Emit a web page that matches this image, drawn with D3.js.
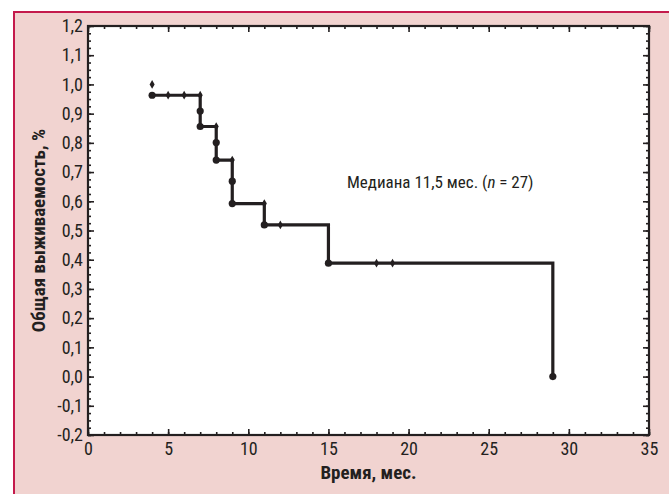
<!DOCTYPE html>
<html>
<head>
<meta charset="utf-8">
<script src="https://cdn.jsdelivr.net/npm/d3@7"></script>
<style>
  body { margin: 0; background: #fff; }
  svg text { font-family: "Liberation Sans Narrow", "Roboto Condensed", "DejaVu Sans Condensed", "Arial Narrow", sans-serif; fill: #231f20; }
</style>
</head>
<body>
<div id="chart"></div>
<script>
// DATA ------------------------------------------------------------------
// survival curve: value after each event time (step after)
const stepTimes = [4, 7, 8, 9, 11, 15, 29];
const stepSurv = [0.963, 0.856, 0.741, 0.592, 0.519, 0.388, 0];

// filled dots (events)
const eventTimes = [4, 7, 7, 8, 8, 9, 9, 11, 15, 29];
const eventSurv = [0.963, 0.909, 0.856, 0.801, 0.741, 0.669, 0.592, 0.519, 0.388, 0];

// small marks (censored / start)
const censTimes = [4, 5, 6, 7, 8, 9, 11, 12, 18, 19];
const censSurv = [1.0, 0.963, 0.963, 0.963, 0.856, 0.741, 0.592, 0.519, 0.388, 0.388];

const xTickValues = [0, 5, 10, 15, 20, 25, 30, 35];
const yTickValues = [-0.2, -0.1, 0, 0.1, 0.2, 0.3, 0.4, 0.5, 0.6, 0.7, 0.8, 0.9, 1.0, 1.1, 1.2];

const xTitle = 'Время, мес.';
const yTitle = 'Общая выживаемость, %';

// CHART INIT ------------------------------------------------------------
const totalW = 669, totalH = 494;
const margin = ({top: 26, right: 20, bottom: 59, left: 88});
const width = totalW - margin.left - margin.right;
const height = totalH - margin.top - margin.bottom;
const ink = '#231f20';

const root = d3.select('#chart')
  .append('svg')
  .attr('width', totalW)
  .attr('height', totalH);

// pink frame
root.append('rect')
  .attr('x', 14).attr('y', 12)
  .attr('width', totalW).attr('height', totalH)
  .attr('fill', '#f1d3d0')
  .attr('stroke', '#c41a4c')
  .attr('stroke-width', 2);

const svg = root.append('g')
  .attr('transform', 'translate(' + margin.left + ',' + margin.top + ')');

svg.append('rect')
  .attr('width', width).attr('height', height)
  .attr('fill', '#fff');

// scales
const xScale = d3.scaleLinear().domain([0, 35]).range([0, width]);
const yScale = d3.scaleLinear().domain([-0.2, 1.2]).range([height, 0]);

const fmt = v => d3.format('.1f')(v).replace('.', ',').replace('−', '-');

// minor ticks
const xMinor = d3.range(0, 36, 1);
const yMinor = d3.range(-0.2, 1.2001, 0.025);

function tickAxis(axisFn, scale, values, size, pad, format) {
  return axisFn(scale).tickValues(values).tickSizeInner(size).tickSizeOuter(0)
    .tickPadding(pad).tickFormat(format);
}

// minor (inside) ticks on all sides
svg.append('g').attr('class', 'minor')
  .attr('transform', 'translate(0,' + height + ')')
  .call(tickAxis(d3.axisBottom, xScale, xMinor, -3, 0, ''));
svg.append('g').attr('class', 'minor')
  .call(tickAxis(d3.axisTop, xScale, xMinor, -3, 0, ''));
svg.append('g').attr('class', 'minor')
  .call(tickAxis(d3.axisLeft, yScale, yMinor, -3, 0, ''));
svg.append('g').attr('class', 'minor')
  .attr('transform', 'translate(' + width + ',0)')
  .call(tickAxis(d3.axisRight, yScale, yMinor, -3, 0, ''));

// major ticks
svg.append('g').attr('class', 'major')
  .attr('transform', 'translate(0,' + height + ')')
  .call(tickAxis(d3.axisBottom, xScale, xTickValues, -6, 7, d => d));
svg.append('g').attr('class', 'major top')
  .call(tickAxis(d3.axisTop, xScale, xTickValues, -6, 0, ''));
svg.append('g').attr('class', 'major')
  .call(tickAxis(d3.axisLeft, yScale, yTickValues, -6, 5, fmt));
svg.append('g').attr('class', 'major right')
  .attr('transform', 'translate(' + width + ',0)')
  .call(tickAxis(d3.axisRight, yScale, yTickValues, -6, 0, ''));

svg.selectAll('.minor .domain, .major .domain').remove();
svg.selectAll('.tick line').attr('stroke', ink).attr('stroke-width', 1.6);
svg.selectAll('.major .tick text')
  .attr('font-size', 18)
  .attr('fill', ink);

// frame of plot area
svg.append('rect')
  .attr('width', width).attr('height', height)
  .attr('fill', 'none')
  .attr('stroke', ink)
  .attr('stroke-width', 2.2);

// step curve
const curve = d3.line()
  .x((d, i) => xScale(stepTimes[i]))
  .y((d, i) => yScale(stepSurv[i]))
  .curve(d3.curveStepAfter);

svg.append('path')
  .datum(stepTimes)
  .attr('d', curve)
  .attr('fill', 'none')
  .attr('stroke', ink)
  .attr('stroke-width', 3.2);

// event dots
svg.selectAll('.event')
  .data(eventTimes)
  .join('circle')
  .attr('class', 'event')
  .attr('cx', d => xScale(d))
  .attr('cy', (d, i) => yScale(eventSurv[i]))
  .attr('r', 3.6)
  .attr('fill', ink);

// censored marks
const diamond = d3.symbol().type(d3.symbolDiamond).size(22);
svg.selectAll('.cens')
  .data(censTimes)
  .join('path')
  .attr('class', 'cens')
  .attr('d', diamond)
  .attr('transform', (d, i) => 'translate(' + xScale(d) + ',' + yScale(censSurv[i]) + ')')
  .attr('fill', ink);

// annotation
const note = svg.append('text')
  .attr('x', 259)
  .attr('y', 162)
  .attr('font-size', 17)
  .attr('fill', ink);
note.append('tspan').text('Медиана 11,5 мес. (');
note.append('tspan').attr('font-style', 'italic').text('n');
note.append('tspan').text(' = 27)');

// axis titles
root.append('text')
  .attr('x', margin.left + width / 2)
  .attr('y', 479)
  .attr('text-anchor', 'middle')
  .attr('font-size', 19)
  .attr('font-weight', 'bold')
  .text(xTitle);

root.append('text')
  .attr('transform', 'translate(45,' + (margin.top + height / 2) + ') rotate(-90)')
  .attr('text-anchor', 'middle')
  .attr('font-size', 19)
  .attr('font-weight', 'bold')
  .text(yTitle);
</script>
</body>
</html>
